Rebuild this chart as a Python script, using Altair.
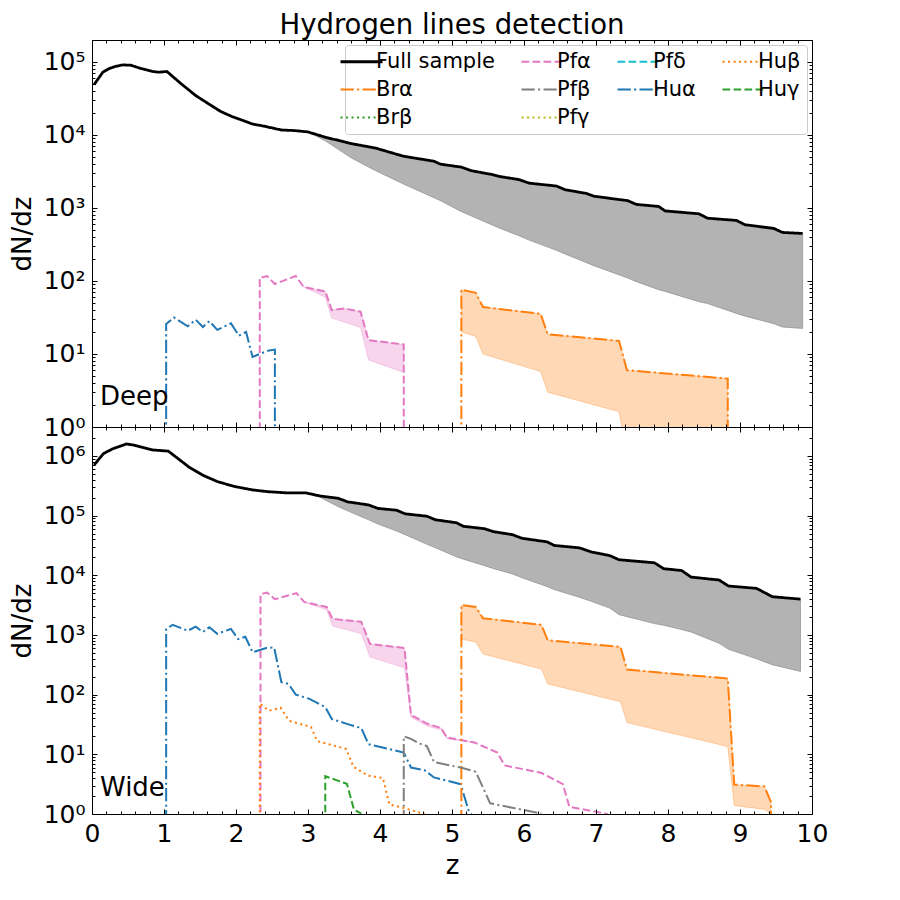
import altair as alt
import pandas as pd

# ---------------- data ----------------
# Deep survey
deep_full_z = [0.03, 0.15, 0.24, 0.33, 0.43, 0.54, 0.68, 0.84, 0.93, 1.04, 1.24, 1.44, 1.63, 1.79,
               1.95, 2.12, 2.23, 2.39, 2.63, 2.81, 3.00, 3.24, 3.61, 3.94, 4.32, 4.75, 4.84, 5.13,
               5.27, 5.55, 5.67, 5.93, 6.07, 6.45, 6.57, 6.87, 6.97, 7.44, 7.56, 7.87, 7.96, 8.43,
               8.55, 8.95, 9.07, 9.47, 9.59, 9.87]
deep_full_v = [49000, 72400, 81300, 87100, 91200, 90200, 81300, 74100, 72400, 74100, 50100, 34700,
               26300, 20900, 17800, 15500, 14100, 13200, 11700, 11500, 11000, 9330, 7590, 6610,
               5130, 4370, 3980, 3630, 3240, 2880, 2690, 2450, 2190, 2000, 1780, 1580, 1450, 1260,
               1120, 1050, 912, 832, 724, 676, 589, 525, 462, 448]
deep_band_start = 20
deep_full_lower = [11000, 8320, 4790, 3240, 2140, 1380, 1260, 891, 776, 589, 525, 417, 363, 263,
                   234, 178, 162, 110, 98, 76, 72, 52, 49, 36, 33, 26, 23.4, 22.4]

deep_hua_z = [1.03, 1.03, 1.14, 1.33, 1.44, 1.54, 1.63, 1.74, 1.93, 2.04, 2.14, 2.23, 2.35, 2.46, 2.54, 2.54]
deep_hua_v = [0.01, 25.7, 31.6, 24.0, 29.5, 23.4, 28.2, 21.4, 26.3, 17.8, 20.0, 9.1, 10.2, 11.2, 11.5, 0.01]

deep_pfa_z = [2.33, 2.33, 2.43, 2.54, 2.83, 2.94, 3.24, 3.33, 3.50, 3.73, 3.84, 4.33, 4.33]
deep_pfa_v = [0.01, 110, 117, 91, 117, 83, 72, 40, 42, 38, 15.5, 13.5, 0.01]
deep_pfa_band = (5, 12)
deep_pfa_lower = [83, 60, 31, 27.5, 23, 8.3, 5.6]

deep_bra_z = [5.13, 5.13, 5.33, 5.43, 6.23, 6.33, 7.32, 7.43, 8.83, 8.83]
deep_bra_v = [0.01, 76, 69, 44, 35.5, 18.6, 15.1, 6.0, 4.6, 0.01]
deep_bra_band = (1, 9)
deep_bra_lower = [20, 17.4, 10, 5.75, 3.0, 1.62, 0.4, 0.3]

# Wide survey
wide_full_z = [0.03, 0.16, 0.29, 0.48, 0.58, 0.84, 1.06, 1.35, 1.55, 1.74, 1.97, 2.23, 2.45, 2.71,
               2.97, 3.16, 3.42, 3.55, 3.84, 3.97, 4.23, 4.35, 4.65, 4.77, 5.06, 5.16, 5.45, 5.58,
               5.84, 5.97, 6.32, 6.42, 6.77, 6.94, 7.19, 7.32, 7.81, 7.94, 8.19, 8.32, 8.71, 8.84,
               9.23, 9.45, 9.84]
wide_full_v = [708000, 1096000, 1318000, 1585000, 1514000, 1259000, 1202000, 646000, 468000,
               372000, 309000, 269000, 251000, 240000, 240000, 214000, 195000, 170000, 151000,
               132000, 123000, 107000, 97700, 85100, 75900, 66100, 60300, 53700, 47900, 41700,
               36300, 31600, 28800, 24500, 21400, 18200, 16200, 12900, 12000, 9330, 8320, 6610,
               6030, 4370, 3980]
wide_band_start = 14
wide_full_lower = [240000, 204000, 141000, 120000, 85100, 72400, 55000, 47900, 33100, 28800,
                   20400, 18600, 14500, 12900, 10500, 9120, 6460, 5750, 4270, 3630, 2820, 2190,
                   1550, 1450, 1230, 1120, 724, 575, 398, 316, 245]

wide_hua_z = [1.03, 1.03, 1.12, 1.33, 1.44, 1.54, 1.63, 1.74, 1.93, 2.03, 2.13, 2.23, 2.42, 2.53,
              2.63, 2.73, 2.83, 3.02, 3.24, 3.33, 3.54, 3.74, 3.84, 4.33, 4.43, 4.62, 4.75, 5.12,
              5.23, 5.45]
wide_hua_v = [0.01, 1259, 1479, 1175, 1380, 1122, 1349, 1047, 1259, 851, 933, 513, 603, 617, 162,
              151, 100, 85, 62, 39, 32.4, 27.5, 14.8, 10.7, 6.0, 5.4, 4.1, 3.16, 1.15, 0.5]

wide_pfa_z = [2.34, 2.34, 2.43, 2.54, 2.84, 2.95, 3.26, 3.34, 3.74, 3.86, 4.34, 4.43, 4.66, 4.85,
              4.93, 5.31, 5.63, 5.73, 6.24, 6.54, 6.63, 7.16]
wide_pfa_v = [0.01, 4790, 5130, 3980, 5010, 3550, 2950, 1860, 1660, 708, 603, 45.7, 32.4, 27.5,
              19.1, 15.8, 10.7, 6.5, 4.9, 3.16, 1.32, 1.0]
wide_pfa_band = (5, 16)
wide_pfa_lower = [3550, 2630, 1410, 1050, 427, 282, 41.7, 29.5, 25.7, 18.2, 15.8]

wide_bra_z = [5.13, 5.13, 5.33, 5.43, 6.24, 6.33, 7.34, 7.43, 8.83, 8.92, 9.34, 9.43, 9.43]
wide_bra_v = [0.01, 3160, 2950, 1905, 1480, 813, 631, 263, 186, 3.1, 2.9, 1.58, 0.01]
wide_bra_band = (1, 12)
wide_bra_lower = [851, 759, 479, 269, 151, 76, 34, 13.5, 1.38, 1.2, 1.0]

wide_hub_z = [2.33, 2.33, 2.46, 2.62, 2.74, 3.04, 3.13, 3.53, 3.63, 3.83, 4.04, 4.13, 4.33, 4.62]
wide_hub_v = [0.01, 70.8, 53.7, 60.3, 36.3, 28.8, 16.6, 12.3, 6.2, 4.4, 4.0, 1.45, 1.26, 1.0]

wide_hug_z = [3.24, 3.24, 3.54, 3.64, 3.74]
wide_hug_v = [0.01, 4.3, 3.2, 1.17, 1.02]

wide_pfb_z = [4.33, 4.33, 4.43, 4.55, 4.65, 4.75, 5.12, 5.33, 5.53, 6.24]
wide_pfb_v = [0.01, 20, 18.2, 15.1, 13.8, 7.4, 6.0, 5.1, 1.51, 1.02]

# legend entries, row-major in a 4-column grid (reads column-major like the reference)
SERIES = ['Full sample', 'Pfα', 'Pfδ', 'Huβ', 'Brα', 'Pfβ', 'Huα', 'Huγ', 'Brβ', 'Pfγ']
COLORS = ['black', '#e377c2', '#17becf', '#ff7f0e', '#ff7f0e', '#7f7f7f', '#1f77b4',
          '#2ca02c', '#2ca02c', '#bcbd22']
SOLID = [1, 0]
DASHED = [7.7, 3.3]
DOTTED = [2.1, 3.4]
DASHDOT = [13.3, 3.3, 2.1, 3.3]
DASHES = [SOLID, DASHED, DASHED, DOTTED, DASHDOT, DASHDOT, DASHDOT, DASHED, DOTTED, DOTTED]

X_MAJOR = [0, 1, 2, 3, 4, 5, 6, 7, 8, 9, 10]
X_MINOR = [round(0.2 * k, 1) for k in range(51) if k % 5 != 0]

FONT = 'DejaVu Sans'
W, H = 720, 387
SUP = "['⁰','¹','²','³','⁴','⁵','⁶','⁷']"


def lines_frame(series):
    rows = []
    for name, zs, vs in series:
        for i, (z, v) in enumerate(zip(zs, vs)):
            rows.append({'series': name, 'z': z, 'v': v, 'i': i})
    return pd.DataFrame(rows)


def band_frame(zs, vs, start, stop, lower):
    return pd.DataFrame({'z': zs[start:stop], 'upper': vs[start:stop], 'lower': lower})


def tick_axis(orient, values, size, offset, domain):
    return alt.Axis(orient=orient, values=values, tickSize=size, offset=offset, labels=False,
                    domain=domain, domainColor='black', domainWidth=1, tickColor='black',
                    tickWidth=1, grid=False, title=None, zindex=1)


def panel(series, bands, ydomain, ymax_exp, label, label_y, show_legend, show_xlabels):
    xs = alt.Scale(domain=[0, 10], nice=False, zero=False)
    ys = alt.Scale(type='log', domain=ydomain, nice=False)
    y_major = [10 ** k for k in range(0, ymax_exp + 1)]
    y_minor = [m * 10 ** k for k in range(0, ymax_exp + 1) for m in range(2, 10)
               if m * 10 ** k <= ydomain[1]]

    layers = []
    for df, col, op in bands:
        layers.append(
            alt.Chart(df).mark_area(fill=col, fillOpacity=op, stroke=col, strokeOpacity=op,
                                    strokeWidth=1, clip=True).encode(
                x=alt.X('z:Q', scale=xs, axis=None),
                y=alt.Y('upper:Q', scale=ys, axis=None),
                y2='lower:Q'))

    if show_legend:
        legend = alt.Legend(title=None, orient='top-right', offset=5, columns=4,
                            direction='horizontal',
                            labelFont=FONT, labelFontSize=21, labelColor='black',
                            symbolType='stroke', symbolSize=1764,
                            symbolStrokeWidth={"expr": "datum.value == 'Full sample' ? 2.8 : 2"},
                            columnPadding=22, rowPadding=6, labelOffset=4, padding=6,
                            strokeColor='#cccccc', fillColor='rgba(255,255,255,0.8)',
                            cornerRadius=3, gridAlign='each', labelLimit=0)
    else:
        legend = None

    ldf = lines_frame(series)
    layers.append(
        alt.Chart(ldf).mark_line(clip=True, strokeCap='butt').encode(
            x=alt.X('z:Q', scale=xs, axis=None),
            y=alt.Y('v:Q', scale=ys, axis=None),
            color=alt.Color('series:N', scale=alt.Scale(domain=SERIES, range=COLORS), legend=legend),
            strokeDash=alt.StrokeDash('series:N', scale=alt.Scale(domain=SERIES, range=DASHES),
                                      legend=legend),
            strokeWidth=alt.condition(alt.datum.series == 'Full sample', alt.value(2.8), alt.value(2)),
            order='i:Q'))

    layers.append(
        alt.Chart(pd.DataFrame({'t': [label]})).mark_text(
            align='left', baseline='alphabetic', font=FONT, fontSize=26, color='black').encode(
            text='t:N', x=alt.value(8), y=alt.value(label_y)))

    dummy = pd.DataFrame({'z': [5.0], 'v': [10.0]})
    base = alt.Chart(dummy).mark_point(opacity=0)
    ylab = alt.Axis(orient='left', values=y_major,
                    labelExpr="'10' + " + SUP + "[round(log(datum.value)/LN10)]",
                    labelFont=FONT, labelFontSize=25, labelColor='black', labelPadding=7,
                    ticks=False, tickSize=0, domain=False, grid=False, labelOverlap=False,
                    title='dN/dz', titleFont=FONT, titleFontSize=26, titleFontWeight='normal',
                    titleColor='black', titlePadding=8)
    if show_xlabels:
        xlab = alt.Axis(orient='bottom', values=X_MAJOR, labelFont=FONT, labelFontSize=25,
                        labelColor='black', labelPadding=7, ticks=False, tickSize=0,
                        domain=False, grid=False, labelFlush=False, labelOverlap=False,
                        title='z', titleFont=FONT, titleFontSize=26, titleFontWeight='normal',
                        titleColor='black', titlePadding=6)
    else:
        xlab = None
    axes_pairs = [
        (tick_axis('top', X_MAJOR, 5, -H, True), ylab),
        (tick_axis('top', X_MINOR, 3, -H, False), tick_axis('right', y_major, 5, -W, True)),
        (tick_axis('bottom', X_MAJOR, 5, -H, True), tick_axis('right', y_minor, 3, -W, False)),
        (tick_axis('bottom', X_MINOR, 3, -H, False), tick_axis('left', y_major, 5, -W, True)),
        (xlab, tick_axis('left', y_minor, 3, -W, False)),
    ]
    for xa, ya in axes_pairs:
        layers.append(base.encode(x=alt.X('z:Q', scale=xs, axis=xa),
                                  y=alt.Y('v:Q', scale=ys, axis=ya)))

    return alt.layer(*layers).resolve_axis(x='independent', y='independent').properties(
        width=W, height=H)


deep_series = [
    ('Full sample', deep_full_z, deep_full_v),
    ('Huα', deep_hua_z, deep_hua_v),
    ('Pfα', deep_pfa_z, deep_pfa_v),
    ('Brα', deep_bra_z, deep_bra_v),
]
deep_bands = [
    (band_frame(deep_full_z, deep_full_v, deep_band_start, len(deep_full_z), deep_full_lower), 'gray', 0.6),
    (band_frame(deep_pfa_z, deep_pfa_v, deep_pfa_band[0], deep_pfa_band[1], deep_pfa_lower), '#e377c2', 0.3),
    (band_frame(deep_bra_z, deep_bra_v, deep_bra_band[0], deep_bra_band[1], deep_bra_lower), '#ff7f0e', 0.3),
]
wide_series = [
    ('Full sample', wide_full_z, wide_full_v),
    ('Huα', wide_hua_z, wide_hua_v),
    ('Pfα', wide_pfa_z, wide_pfa_v),
    ('Brα', wide_bra_z, wide_bra_v),
    ('Huβ', wide_hub_z, wide_hub_v),
    ('Huγ', wide_hug_z, wide_hug_v),
    ('Pfβ', wide_pfb_z, wide_pfb_v),
]
wide_bands = [
    (band_frame(wide_full_z, wide_full_v, wide_band_start, len(wide_full_z), wide_full_lower), 'gray', 0.6),
    (band_frame(wide_pfa_z, wide_pfa_v, wide_pfa_band[0], wide_pfa_band[1], wide_pfa_lower), '#e377c2', 0.3),
    (band_frame(wide_bra_z, wide_bra_v, wide_bra_band[0], wide_bra_band[1], wide_bra_lower), '#ff7f0e', 0.3),
]

top = panel(deep_series, deep_bands, [1, 2.0e5], 5, 'Deep', 365, True, False).properties(
    title=alt.TitleParams('Hydrogen lines detection', font=FONT, fontSize=27.5,
                          fontWeight='normal', color='black', anchor='middle',
                          frame='group', offset=0))
bottom = panel(wide_series, wide_bands, [1, 3.05e6], 6, 'Wide', 369, False, True)

chart = alt.vconcat(top, bottom, spacing=0, bounds='flush').resolve_scale(
    color='independent', strokeDash='independent').properties(
    padding={'left': 0, 'top': 3, 'right': 5, 'bottom': 5}).configure_view(
    stroke=None).configure(font=FONT)

chart.save("out.html", embed_options={"renderer": "svg", "actions": False})
